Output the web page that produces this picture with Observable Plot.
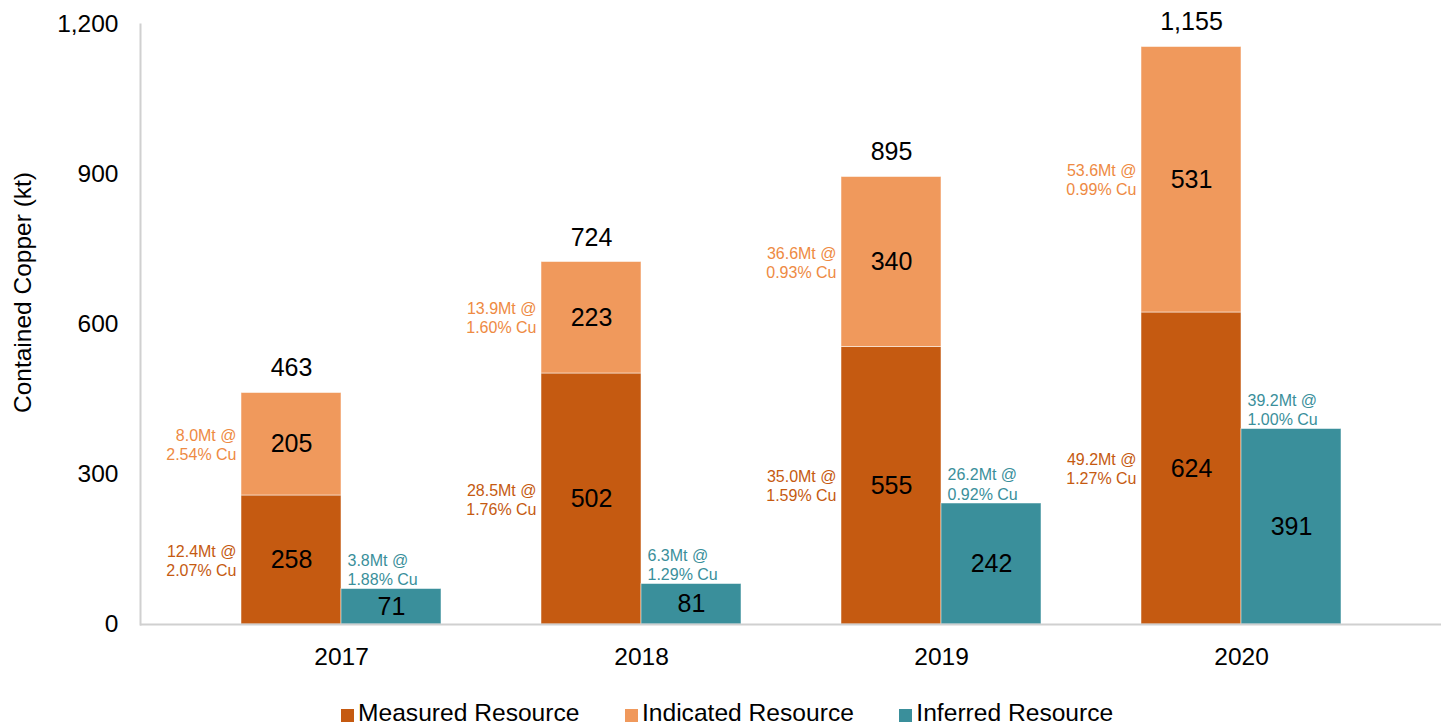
<!DOCTYPE html>
<html>
<head>
<meta charset="utf-8">
<script src="https://cdn.jsdelivr.net/npm/d3@7"></script>
<script src="https://cdn.jsdelivr.net/npm/@observablehq/plot@0.6"></script>
<style>
  body { margin: 0; background: #fff; font-family: "Liberation Sans", Arial, sans-serif; }
  #chart { position: relative; width: 1441px; height: 726px; overflow: hidden; }
  .legend { position: absolute; top: 701px; left: 341px; display: flex; align-items: flex-start;
            font-size: 24.6px; line-height: 24.6px; color: #000; white-space: nowrap; }
  .legend .item { display: flex; align-items: flex-start; margin-right: 45.5px; }
  .legend .sw { width: 13px; height: 13px; margin-top: 8px; margin-right: 4px; }
</style>
</head>
<body>
<div id="chart"></div>
<script>
// ---- data ----
const years = ["2017", "2018", "2019", "2020"];
const series = ["Measured Resource", "Indicated Resource", "Inferred Resource"];
const measured = [258, 502, 555, 624];
const indicated = [205, 223, 340, 531];
const inferred = [71, 81, 242, 391];
const totals = [463, 724, 895, 1155];
const measuredNotes = ["12.4Mt @\n2.07% Cu", "28.5Mt @\n1.76% Cu", "35.0Mt @\n1.59% Cu", "49.2Mt @\n1.27% Cu"];
const indicatedNotes = ["8.0Mt @\n2.54% Cu", "13.9Mt @\n1.60% Cu", "36.6Mt @\n0.93% Cu", "53.6Mt @\n0.99% Cu"];
const inferredNotes = ["3.8Mt @\n1.88% Cu", "6.3Mt @\n1.29% Cu", "26.2Mt @\n0.92% Cu", "39.2Mt @\n1.00% Cu"];
const yTicks = [0, 300, 600, 900, 1200];
const barColors = ["#C55A11", "#F0995C", "#3A8F9B"];
const noteColors = {"Measured Resource": "#C55A11", "Indicated Resource": "#EE8A43", "Inferred Resource": "#3A8F9B"};
const axisTitle = "Contained Copper (kt)";

// ---- tables built from the arrays ----
const stacked = years.flatMap((year, i) => [
  {year, series: series[0], value: measured[i], note: measuredNotes[i]},
  {year, series: series[1], value: indicated[i], note: indicatedNotes[i]}
]);
const inf = years.map((year, i) => ({year, series: series[2], value: inferred[i], note: inferredNotes[i]}));
const tot = years.map((year, i) => ({year, total: totals[i]}));

const fmt = d3.format(",");
const axisColor = "#d0d0d0";
const noteFill = {value: d => noteColors[d.series], scale: null};

const chart = Plot.plot({
  width: 1441,
  height: 684,
  marginTop: 24,
  marginBottom: 60,
  marginLeft: 140,
  marginRight: 0,
  style: {fontFamily: "'Liberation Sans', Arial, sans-serif", fontSize: "24.5px", color: "#000", background: "#fff"},
  x: {domain: years, paddingInner: 1/3, paddingOuter: 1/3, label: null},
  y: {domain: [0, 1200], label: null},
  color: {domain: series, range: barColors},
  marks: [
    Plot.barY(stacked, {x: "year", y: "value", fill: "series", insetRight: 100, stroke: "#fff", strokeOpacity: 0.5, strokeWidth: 1}),
    Plot.barY(inf, {x: "year", y: "value", fill: "series", insetLeft: 100, stroke: "#fff", strokeOpacity: 0.5, strokeWidth: 1}),
    Plot.frame({anchor: "left", stroke: axisColor, strokeWidth: 2}),
    Plot.ruleY([0], {stroke: axisColor, strokeWidth: 2}),
    Plot.axisY({ticks: yTicks, tickSize: 0, tickPadding: 22, tickFormat: fmt, label: null, fill: "#000", fontSize: 24.5}),
    Plot.axisX({tickSize: 0, tickPadding: 23, label: null, fill: "#000", fontSize: 24.5}),
    Plot.text([axisTitle], {frameAnchor: "left", textAnchor: "middle", rotate: -90, dx: -117, dy: -32, fill: "#000", fontSize: 24.5}),
    // values inside bars
    Plot.text(stacked, Plot.stackY({x: "year", y: "value", text: d => fmt(d.value), dx: -50, fill: "#000", fontSize: 25})),
    Plot.text(inf, Plot.stackY({x: "year", y: "value", text: d => fmt(d.value), dx: 50, fill: "#000", fontSize: 25})),
    // tonnage / grade notes
    Plot.text(stacked, Plot.stackY({x: "year", y: "value", text: "note", fill: noteFill, dx: -105, textAnchor: "end", fontSize: 16, lineHeight: 1.19})),
    Plot.text(inf, {x: "year", y: "value", text: "note", fill: noteFill, dx: 6, dy: -4, textAnchor: "start", lineAnchor: "bottom", fontSize: 16, lineHeight: 1.19}),
    // totals
    Plot.text(tot, {x: "year", y: "total", text: d => fmt(d.total), dx: -50, dy: -25, fill: "#000", fontSize: 25})
  ]
});

const root = document.getElementById("chart");
root.appendChild(chart);

const legend = d3.select(root).append("div").attr("class", "legend");
const items = legend.selectAll(".item").data(series).join("div").attr("class", "item");
items.append("span").attr("class", "sw").style("background", (d, i) => barColors[i]);
items.append("span").text(d => d);
</script>
</body>
</html>
